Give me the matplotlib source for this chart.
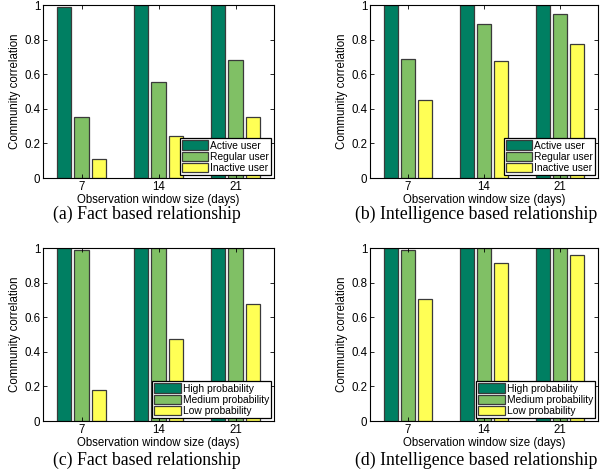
import matplotlib
matplotlib.use("Agg")
import matplotlib.pyplot as plt
import numpy as np

# observation windows (days)
windows = [7, 14, 21]

# (a) fact based, user activity
fact_active = [0.99, 1.0, 1.0]
fact_regular = [0.35, 0.555, 0.68]
fact_inactive = [0.11, 0.24, 0.355]

# (b) intelligence based, user activity
intel_active = [1.0, 1.0, 1.0]
intel_regular = [0.69, 0.888, 0.948]
intel_inactive = [0.45, 0.676, 0.776]

# (c) fact based, probability
fact_high = [1.0, 1.0, 1.0]
fact_medium = [0.99, 1.0, 1.0]
fact_low = [0.18, 0.473, 0.675]

# (d) intelligence based, probability
intel_high = [1.0, 1.0, 1.0]
intel_medium = [0.987, 1.0, 1.0]
intel_low = [0.708, 0.913, 0.96]

activity_labels = ["Active user", "Regular user", "Inactive user"]
prob_labels = ["High probability", "Medium probability", "Low probability"]
captions = ["(a) Fact based relationship", "(b) Intelligence based relationship",
            "(c) Fact based relationship", "(d) Intelligence based relationship"]

colors = ["#007f62", "#80c065", "#ffff55"]

plt.rcParams["font.family"] = ["Liberation Sans", "DejaVu Sans"]
plt.rcParams["font.size"] = 8

fig = plt.figure(figsize=(6.02, 4.73), dpi=100)

W, H = 602.0, 473.0
# axes boxes in pixels: left, top, right, bottom
boxes = [(43, 5, 274, 178), (370, 5, 598, 178),
         (43, 248, 274, 421), (370, 248, 598, 421)]
caption_x = [147, 476, 147, 476]
caption_y = [214, 214, 460, 460]

panels = [
    ([fact_active, fact_regular, fact_inactive], activity_labels),
    ([intel_active, intel_regular, intel_inactive], activity_labels),
    ([fact_high, fact_medium, fact_low], prob_labels),
    ([intel_high, intel_medium, intel_low], prob_labels),
]

x = np.array(windows, dtype=float)
offset = 1.55
width = 1.28

for i, (series, labels) in enumerate(panels):
    l, t, r, b = boxes[i]
    ax = fig.add_axes([l / W, 1 - b / H, (r - l) / W, (b - t) / H])
    for j, vals in enumerate(series):
        ax.bar(x + (j - 1) * offset, vals, width, color=colors[j],
               edgecolor="#3a3a3a", linewidth=0.9, label=labels[j])
    ax.set_xlim(3.5, 24.5)
    ax.set_ylim(0, 1)
    ax.set_xticks(windows)
    ax.set_yticks([0, 0.2, 0.4, 0.6, 0.8, 1])
    ax.set_yticklabels(["0", "0.2", "0.4", "0.6", "0.8", "1"])
    ax.tick_params(direction="in", top=True, right=True, length=3, width=0.6,
                   labelsize=8.3, pad=2)
    for s in ax.spines.values():
        s.set_linewidth(0.8)
    ax.set_xlabel("Observation window size (days)", fontsize=8.3, labelpad=1)
    ax.set_ylabel("Community correlation", fontsize=8.3, labelpad=2)
    leg = ax.legend(loc="lower right", fancybox=False, edgecolor="black",
                    framealpha=1, fontsize=7.4, handlelength=2.6,
                    handleheight=1.0, labelspacing=0.1, borderpad=0.2,
                    handletextpad=0.15, borderaxespad=0.3)
    leg.get_frame().set_linewidth(0.9)
    fig.text(caption_x[i] / W, 1 - caption_y[i] / H, captions[i],
             ha="center", va="center", fontsize=12.8,
             family=["Liberation Serif", "DejaVu Serif"])

fig.savefig("out.png", dpi=100)
